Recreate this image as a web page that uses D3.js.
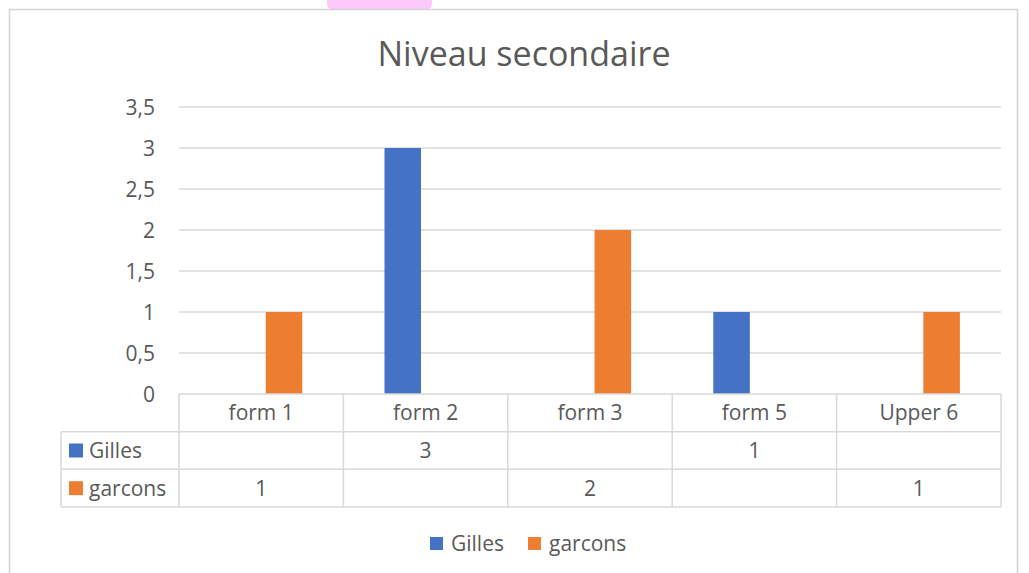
<!DOCTYPE html>
<html>
<head>
<meta charset="utf-8">
<script src="https://cdn.jsdelivr.net/npm/d3@7"></script>
<style>
  html, body { margin: 0; padding: 0; background: #ffffff; }
  svg { display: block; font-family: "Open Sans", sans-serif; }
</style>
</head>
<body>
<div id="chart"></div>
<script>
// chart values
var categories = ["form 1", "form 2", "form 3", "form 5", "Upper 6"];
var seriesNames = ["Gilles", "garcons"];
var gilles = [null, 3, null, 1, null];
var garcons = [1, null, 2, null, 1];
var yTicks = [0, 0.5, 1, 1.5, 2, 2.5, 3, 3.5];
var seriesColors = ["#4472c4", "#ed7d31"];

var width = 1029, height = 573;
var textColor = "#595959", lineColor = "#d9d9d9";
var fontSize = 21;

var svg = d3.select("#chart").append("svg")
    .attr("width", width)
    .attr("height", height);

// pink blob peeking above the frame
svg.append("path")
    .attr("d", "M327,0 L432,0 L432,3 Q432,10 425,10 L334,10 Q327,10 327,3 Z")
    .attr("fill", "#fcc8fc");

// chart frame
svg.append("rect")
    .attr("x", 9.5).attr("y", 9.5)
    .attr("width", 1008).attr("height", 600)
    .attr("fill", "#ffffff")
    .attr("stroke", "#d4d4d4")
    .attr("stroke-width", 1.5);

svg.append("text")
    .attr("x", 524).attr("y", 66)
    .attr("text-anchor", "middle")
    .attr("font-size", 34)
    .attr("fill", textColor)
    .text("Niveau secondaire");

// scales
var y = d3.scaleLinear().domain([0, 3.5]).range([394, 107]);
var x0 = d3.scaleBand().domain(categories).range([179, 1001]);
var bw = x0.bandwidth();
var x1 = d3.scaleBand().domain(seriesNames)
    .range([bw * 0.25, bw * 0.75])
    .paddingInner(0.2);
var rows = d3.scaleBand().domain(["header"].concat(seriesNames)).range([394, 507]);

var fmt = d3.formatLocale({decimal: ",", thousands: " ", grouping: [3], currency: ["", ""]}).format("~g");

// gridlines
svg.append("g").selectAll("line")
    .data(yTicks.filter(function(d) { return d > 0; }))
    .join("line")
    .attr("x1", 179).attr("x2", 1001)
    .attr("y1", function(d) { return y(d); })
    .attr("y2", function(d) { return y(d); })
    .attr("stroke", lineColor)
    .attr("stroke-width", 1.5);

// y axis labels
svg.append("g").selectAll("text")
    .data(yTicks)
    .join("text")
    .attr("x", 155)
    .attr("y", function(d) { return y(d); })
    .attr("dy", "0.36em")
    .attr("text-anchor", "end")
    .attr("font-size", fontSize)
    .attr("fill", textColor)
    .text(function(d) { return fmt(d); });

// bars
var seriesData = [gilles, garcons];
seriesNames.forEach(function(name, si) {
    svg.append("g").selectAll("rect")
        .data(categories.map(function(c, i) { return {cat: c, v: seriesData[si][i]}; })
            .filter(function(d) { return d.v != null; }))
        .join("rect")
        .attr("x", function(d) { return x0(d.cat) + x1(name); })
        .attr("width", x1.bandwidth())
        .attr("y", function(d) { return y(d.v); })
        .attr("height", function(d) { return y(0) - y(d.v); })
        .attr("fill", seriesColors[si]);
});

// data table
var table = svg.append("g")
    .attr("stroke", lineColor)
    .attr("stroke-width", 1.5);
table.append("line")
    .attr("x1", 179).attr("x2", 1001)
    .attr("y1", rows("header")).attr("y2", rows("header"));
seriesNames.forEach(function(name) {
    table.append("line")
        .attr("x1", 61).attr("x2", 1001)
        .attr("y1", rows(name)).attr("y2", rows(name));
});
table.append("line")
    .attr("x1", 61).attr("x2", 1001)
    .attr("y1", 507).attr("y2", 507);
table.append("line")
    .attr("x1", 61).attr("x2", 61)
    .attr("y1", rows(seriesNames[0])).attr("y2", 507);
table.selectAll(".vline")
    .data(categories.concat(["end"]))
    .join("line")
    .attr("class", "vline")
    .attr("x1", function(d, i) { return 179 + i * bw; })
    .attr("x2", function(d, i) { return 179 + i * bw; })
    .attr("y1", 394).attr("y2", 507);

// header labels
svg.append("g").selectAll("text")
    .data(categories)
    .join("text")
    .attr("x", function(d) { return x0(d) + bw / 2; })
    .attr("y", rows("header") + rows.bandwidth() / 2)
    .attr("dy", "0.36em")
    .attr("text-anchor", "middle")
    .attr("font-size", fontSize)
    .attr("fill", textColor)
    .text(function(d) { return d; });

// series rows
seriesNames.forEach(function(name, si) {
    var cy = rows(name) + rows.bandwidth() / 2;
    svg.append("rect")
        .attr("x", 69).attr("y", cy - 7)
        .attr("width", 14).attr("height", 14)
        .attr("fill", seriesColors[si]);
    svg.append("text")
        .attr("x", 89).attr("y", cy)
        .attr("dy", "0.36em")
        .attr("font-size", fontSize)
        .attr("fill", textColor)
        .text(name);
    svg.append("g").selectAll("text")
        .data(categories.map(function(c, i) { return {cat: c, v: seriesData[si][i]}; })
            .filter(function(d) { return d.v != null; }))
        .join("text")
        .attr("x", function(d) { return x0(d.cat) + bw / 2; })
        .attr("y", cy)
        .attr("dy", "0.36em")
        .attr("text-anchor", "middle")
        .attr("font-size", fontSize)
        .attr("fill", textColor)
        .text(function(d) { return fmt(d.v); });
});

// legend
var legendX = [430, 528];
seriesNames.forEach(function(name, si) {
    svg.append("rect")
        .attr("x", legendX[si]).attr("y", 537)
        .attr("width", 13).attr("height", 13)
        .attr("fill", seriesColors[si]);
    svg.append("text")
        .attr("x", legendX[si] + 21).attr("y", 543.5)
        .attr("dy", "0.36em")
        .attr("font-size", fontSize)
        .attr("fill", textColor)
        .text(name);
});
</script>
</body>
</html>
